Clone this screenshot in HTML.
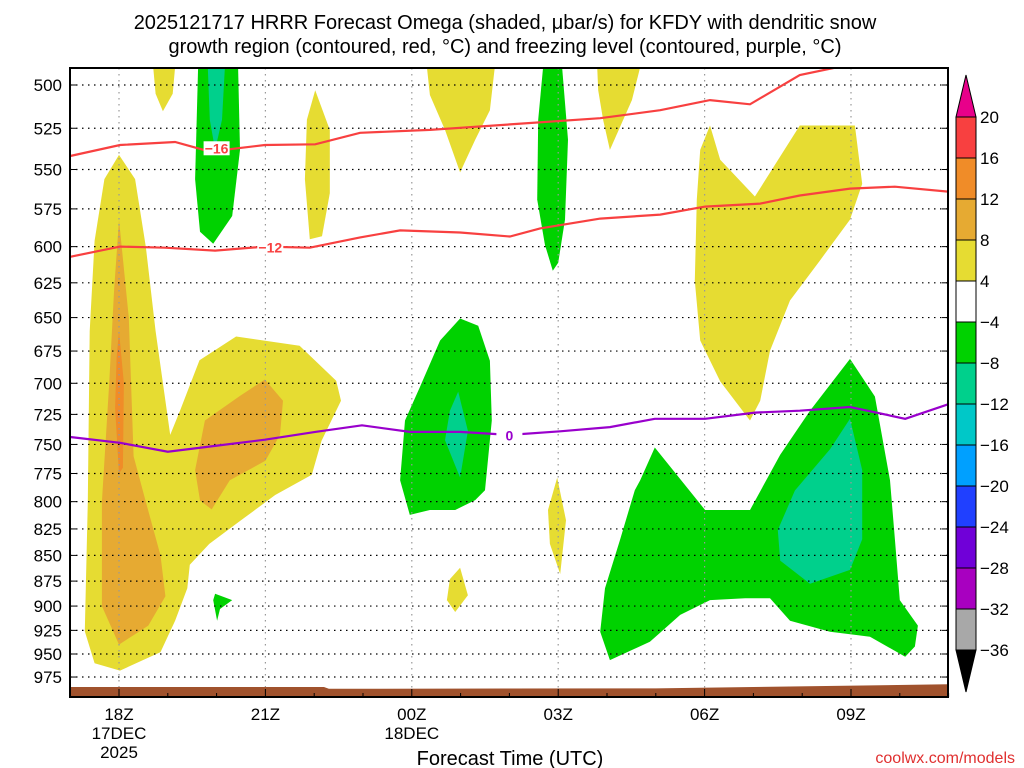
<!DOCTYPE html>
<html><head><meta charset="utf-8"><style>
html,body{margin:0;padding:0;background:#fff;}
svg{display:block;font-family:"Liberation Sans",sans-serif;}
</style></head><body>
<svg id="c" width="1024" height="768" viewBox="0 0 1024 768">
<g>
<text x="505" y="29" font-size="20" text-anchor="middle">2025121717 HRRR Forecast Omega (shaded, μbar/s) for KFDY with dendritic snow</text>
<text x="505" y="53" font-size="20" text-anchor="middle">growth region (contoured, red, °C) and freezing level (contoured, purple, °C)</text>
</g>
<g id="fills"></g>
<g id="grid"></g>
<g id="lines"></g>
<g id="axes"></g>
<g id="cbar"></g>
<text x="510" y="765" font-size="20" text-anchor="middle">Forecast Time (UTC)</text>
<text x="1015" y="763" font-size="16" fill="#e03030" text-anchor="end">coolwx.com/models</text>
</svg>
<script>
// hours relative to 18Z 17DEC, pressure in mb
const pressureTicks = [500,525,550,575,600,625,650,675,700,725,750,775,800,825,850,875,900,925,950,975];
const hourTicks = [0,3,6,9,12,15];
const hourLabels = [["18Z","17DEC","2025"],["21Z"],["00Z","18DEC"],["03Z"],["06Z"],["09Z"]];
const cbarLevels = [20,16,12,8,4,-4,-8,-12,-16,-20,-24,-28,-32,-36];
const cbarColors = ["#f84040","#f08c28","#e6aa32","#e6dc32","#ffffff","#00d200","#00d08c","#00c8c8","#00a0ff","#2040ff","#7000d8","#a800c0","#a8a8a8"];

const yellowLeft = [[0,541],[0.33,556],[0.55,600],[0.75,660],[0.95,714],[1.05,742],[1.25,722],[1.65,682],[2.4,664],[3.7,671],[4.45,698],[4.55,714],[4.15,747],[3.95,776],[3.2,794],[2.5,817],[1.85,839],[1.45,859],[1.4,882],[1.15,915],[0.85,948],[0.02,968],[-0.5,960],[-0.7,926],[-0.64,800],[-0.6,660],[-0.5,596],[-0.3,556]];
const goldLeft = [[0,582],[0.2,650],[0.3,760],[0.55,800],[0.85,850],[0.95,890],[0.6,920],[0,940],[-0.35,900],[-0.35,800],[-0.2,700],[-0.1,630]];
const orangeStreak = [[0,660],[0.1,700],[0.08,770],[0,775],[-0.08,720],[-0.05,680]];
const goldRight = [[2.99,697],[3.36,714],[3.3,742],[3.0,764],[2.27,781],[1.9,807],[1.66,799],[1.56,772],[1.76,730],[2.48,710]];
const yellowTop1 = [[0.7,490],[1.15,490],[1.1,505],[0.9,515],[0.75,505]];
const yellowTop2 = [[4.02,503],[4.32,526],[4.32,565],[4.16,593],[3.91,595],[3.81,556],[3.85,520]];
const yellowTop3 = [[6.31,490],[7.7,490],[7.6,514.5],[7.3,531.8],[6.99,551.8],[6.68,526],[6.37,505.7]];
const yellowTop4 = [[9.8,490],[10.68,490],[10.51,508.6],[10.06,538],[9.92,520],[9.82,503]];
const yellowBig = [[12.11,523.4],[12.32,544],[13.03,567],[13.95,523.4],[15.08,523.4],[15.23,559],[14.98,582],[14.36,609.6],[13.75,637.6],[13.34,674.8],[13.14,713.9],[12.93,730],[12.32,698.5],[11.91,667],[11.8,623.6],[11.84,569],[11.91,538]];
const yellowSmall1 = [[8.98,778.6],[9.16,817],[9.04,868],[8.83,839],[8.79,807.6]];
const yellowSmall2 = [[6.99,862],[7.15,889],[6.89,906],[6.72,894],[6.78,873]];
const greenTop1 = [[1.62,490],[2.44,490],[2.48,538],[2.32,579.6],[1.93,598],[1.66,590],[1.56,556]];
const tealTop1 = [[1.82,490],[2.17,490],[2.11,520],[1.97,538],[1.86,520]];
const greenTop2 = [[8.69,490],[9.08,490],[9.2,531.8],[9.14,582],[9.0,611],[8.89,616.5],[8.73,599],[8.57,569],[8.59,520]];
const greenMid = [[6.99,650.7],[7.36,656],[7.6,682.5],[7.64,730],[7.5,789.7],[7.3,798.6],[6.89,807.6],[6.37,807.6],[5.96,812],[5.76,781],[5.86,730],[6.17,702.6],[6.58,667]];
const tealMid = [[6.95,706.6],[7.15,738.6],[6.99,778.6],[6.68,746.5],[6.78,722]];
const greenSmall = [[1.97,887.6],[2.32,894],[2.07,903],[2.01,915],[1.93,894]];
const greenBig = [[10.98,752.6],[12.01,807.6],[12.93,807.6],[13.55,758.7],[14.16,722],[14.98,681],[15.49,710.5],[15.8,781],[15.9,834.6],[16.0,894],[16.37,920],[16.31,942],[16.11,953],[15.39,931.6],[14.57,926.5],[13.75,915],[13.34,892],[12.83,892],[12.11,894],[11.5,909],[10.88,937],[10.06,956.6],[9.86,926.5],[9.96,882],[10.27,834.6],[10.57,789.7],[10.68,781]];
const tealBig = [[14.98,728.6],[15.23,772],[15.23,834.6],[14.98,864],[14.16,877.6],[13.55,855],[13.5,826],[13.85,790],[14.57,754]];

const dgzTop = [[-1,541.7],[0.02,535],[1.15,533.2],[1.86,539],[2.99,535],[4.02,534.6],[4.94,527.7],[6.37,526],[8.01,522.7],[9.86,519.1],[11.09,514.4],[12.11,508.6],[12.93,511],[13.95,494.4],[14.77,489.8]];
const dgzBottom = [[-1,606.9],[0.02,600],[0.94,600.7],[1.97,602.7],[2.99,600],[3.91,600.7],[4.94,593.8],[5.76,589.1],[6.99,590.5],[8.01,593.2],[8.63,587.8],[9.86,581.3],[11.09,578.7],[12.01,573.5],[13.14,571.6],[13.95,566.4],[14.98,562],[15.9,560.8],[16.99,563.9]];
const freezing = [[-1,743.7],[0.02,748.6],[1.0,756.2],[1.97,751.2],[2.99,746],[4.02,739.5],[4.98,734],[5.96,739.5],[6.99,739.5],[8.01,742],[9.04,739],[10.06,735.5],[10.98,728.6],[12.01,728.6],[13.03,723.5],[13.95,722],[14.98,719],[16.11,728.6],[16.99,716.8]];
const terrain = [[-1,986],[2,986],[4.2,986],[4.3,988],[11,987.5],[13,986],[17,983]];

const X0=70,X1=948,Y0=68,Y1=697;
function xs(h){return 119+h*48.8;}
function ys(p){return 85+(Math.log(p)-Math.log(500))*886.5;}
const NS="http://www.w3.org/2000/svg";
function mk(tag,attrs,parent){const e=document.createElementNS(NS,tag);for(const k in attrs)e.setAttribute(k,attrs[k]);parent.appendChild(e);return e;}
function pts(arr){return arr.map(d=>xs(d[0]).toFixed(1)+","+ys(d[1]).toFixed(1)).join(" ");}
const svg=document.getElementById('c');
const defs=mk('defs',{},svg);
const cp=mk('clipPath',{id:'pc'},defs);
mk('rect',{x:X0,y:Y0,width:X1-X0,height:Y1-Y0},cp);
const fills=document.getElementById('fills');fills.setAttribute('clip-path','url(#pc)');
function poly(arr,col,name){const e=mk('polygon',{points:pts(arr),fill:col},fills);

}
poly(yellowLeft,"#e6dc32","omega-4-8-left");
poly(goldLeft,"#e6aa32","omega-8-12-left");
poly(orangeStreak,"#f08c28","omega-12-16-left");
poly(goldRight,"#e6aa32","omega-8-12-right");
poly(yellowTop1,"#e6dc32","omega-4-8-top-1");
poly(yellowTop2,"#e6dc32","omega-4-8-top-2");
poly(yellowTop3,"#e6dc32","omega-4-8-top-3");
poly(yellowTop4,"#e6dc32","omega-4-8-top-4");
poly(yellowBig,"#e6dc32","omega-4-8-right");
poly(yellowSmall1,"#e6dc32","omega-4-8-small-1");
poly(yellowSmall2,"#e6dc32","omega-4-8-small-2");
poly(greenTop1,"#00d200","omega-neg4-8-top-1");
poly(tealTop1,"#00d08c","omega-neg8-12-top-1");
poly(greenTop2,"#00d200","omega-neg4-8-top-2");
poly(greenMid,"#00d200","omega-neg4-8-mid");
poly(tealMid,"#00d08c","omega-neg8-12-mid");
poly(greenSmall,"#00d200","omega-neg4-8-small");
poly(greenBig,"#00d200","omega-neg4-8-lower-right");
poly(tealBig,"#00d08c","omega-neg8-12-lower-right");

const grid=document.getElementById('grid');
pressureTicks.forEach(p=>{const e=mk('line',{x1:X0,x2:X1,y1:ys(p),y2:ys(p),stroke:'#000','stroke-width':1.2,'stroke-dasharray':'1.5 4.5'},grid);

});
hourTicks.forEach(h=>{const e=mk('line',{x1:xs(h),x2:xs(h),y1:Y0,y2:Y1,stroke:'#999','stroke-width':1.2,'stroke-dasharray':'1.5 4.5'},grid);

});

const lines=document.getElementById('lines');lines.setAttribute('clip-path','url(#pc)');
function pl(arr,col,name){const e=mk('polyline',{points:pts(arr),fill:'none',stroke:col,'stroke-width':2.2},lines);

}
pl(dgzTop,"#f84040","dgz-minus16-contour");
pl(dgzBottom,"#f84040","dgz-minus12-contour");
pl(freezing,"#9900cc","freezing-level-contour");
function lab(t,h,p,col,name){const g=mk('g',{},lines);


mk('rect',{x:xs(h)-13,y:ys(p)-7,width:26,height:14,fill:'#fff'},g);
const tx=mk('text',{x:xs(h),y:ys(p)+5,'font-size':14,'font-weight':'bold',fill:col,'text-anchor':'middle'},g);tx.textContent=t;}
lab("−16",2.0,537,"#f84040","label-minus16");
lab("−12",3.1,600.5,"#f84040","label-minus12");
lab("0",8.0,742.5,"#9900cc","label-zero");
const tp=[[X0,Y1]].concat(terrain.map(d=>[xs(d[0]),ys(d[1])])).concat([[X1,Y1]]);
const te=mk('polygon',{points:tp.map(d=>d[0]+","+d[1]).join(" "),fill:'#a0522d'},lines);



const axes=document.getElementById('axes');
mk('rect',{x:X0,y:Y0,width:X1-X0,height:Y1-Y0,fill:'none',stroke:'#000','stroke-width':2},axes);
pressureTicks.forEach(p=>{mk('line',{x1:X0,x2:X0+6,y1:ys(p),y2:ys(p),stroke:'#000'},axes);mk('line',{x1:X1-6,x2:X1,y1:ys(p),y2:ys(p),stroke:'#000'},axes);
const t=mk('text',{x:62,y:ys(p)+6,'font-size':17,'text-anchor':'end'},axes);t.textContent=p;

});
for(let h=-1;h<=17;h++){mk('line',{x1:xs(h),x2:xs(h),y1:Y1,y2:Y1-(h%3===0?8:4),stroke:'#000'},axes);}
hourTicks.forEach((h,i)=>{hourLabels[i].forEach((s,j)=>{const t=mk('text',{x:xs(h),y:720+j*19,'font-size':17,'text-anchor':'middle'},axes);t.textContent=s;

});});

const cb=document.getElementById('cbar');
const CX=956,CW=20,CT=117,CH=41;
mk('polygon',{points:`${CX},${CT} ${CX+CW},${CT} ${CX+CW/2},${CT-42}`,fill:'#e8008a',stroke:'#000'},cb);
cbarColors.forEach((c,i)=>{const r=mk('rect',{x:CX,y:CT+i*CH,width:CW,height:CH,fill:c,stroke:'#000'},cb);

});
const cb2=CT+cbarColors.length*CH;
mk('polygon',{points:`${CX},${cb2} ${CX+CW},${cb2} ${CX+CW/2},${cb2+42}`,fill:'#000',stroke:'#000'},cb);
cbarLevels.forEach((v,i)=>{const t=mk('text',{x:980,y:CT+i*CH+6,'font-size':17},cb);t.textContent=v<0?'−'+(-v):v;

});
</script>
</body></html>
